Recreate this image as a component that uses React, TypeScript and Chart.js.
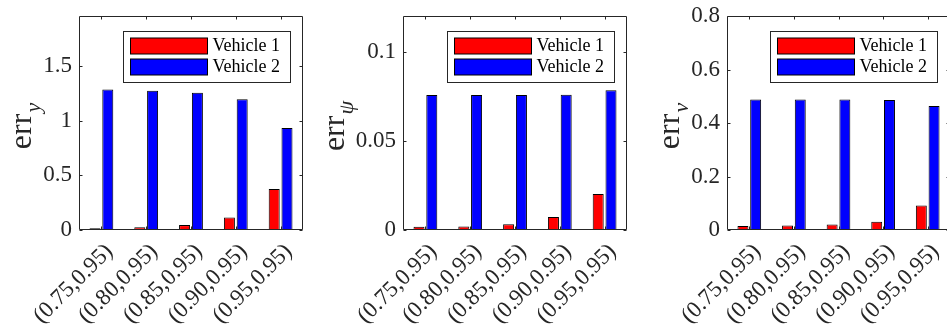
import React, { useEffect, useRef } from "react";
import { Chart, registerables } from "chart.js";
Chart.register(...registerables);

const categories = ["(0.75,0.95)", "(0.80,0.95)", "(0.85,0.95)", "(0.90,0.95)", "(0.95,0.95)"];
const seriesNames = ["Vehicle 1", "Vehicle 2"];

const errY_v1 = [0.015, 0.025, 0.045, 0.115, 0.376];
const errY_v2 = [1.286, 1.275, 1.258, 1.198, 0.935];
const errPsi_v1 = [0.0018, 0.002, 0.0032, 0.0073, 0.0202];
const errPsi_v2 = [0.0757, 0.0757, 0.0757, 0.0758, 0.0783];
const errV_v1 = [0.015, 0.017, 0.021, 0.031, 0.092];
const errV_v2 = [0.488, 0.488, 0.488, 0.486, 0.464];

const yMaxes = [1.96, 0.12, 0.8];
const ySteps = [0.5, 0.05, 0.2];
const yLabelMain = "err";
const ySubs = ["y", "ψ", "v"];

const FONT = "'Liberation Serif', 'Times New Roman', serif";
const AX = "#262626";

const panels = [
  { v1: errY_v1, v2: errY_v2, max: yMaxes[0], step: ySteps[0], sub: ySubs[0], x0: 0, leftW: 79, padR: 17 },
  { v1: errPsi_v1, v2: errPsi_v2, max: yMaxes[1], step: ySteps[1], sub: ySubs[1], x0: 320, leftW: 83, padR: 13 },
  { v1: errV_v1, v2: errV_v2, max: yMaxes[2], step: ySteps[2], sub: ySubs[2], x0: 640, leftW: 87, padR: 10 },
];

const fmt = (v: number) => String(Math.round(v * 10000) / 10000);

const framePlugin = {
  id: "frame",
  afterDraw(chart: any, _args: any, opts: any) {
    const { ctx, chartArea: a } = chart;
    const xs = chart.scales.x;
    const ys = chart.scales.y;
    const L = Math.round(a.left) + 0.5;
    const R = Math.round(a.right) - 0.5;
    const T = Math.round(a.top) + 0.5;
    const B = Math.round(a.bottom) - 0.5;
    ctx.save();
    ctx.strokeStyle = AX;
    ctx.lineWidth = 1;
    ctx.beginPath();
    ctx.rect(L, T, R - L, B - T);
    ys.ticks.forEach((t: any) => {
      const y = Math.round(ys.getPixelForValue(t.value)) + 0.5;
      ctx.moveTo(L, y); ctx.lineTo(L + 3, y);
      ctx.moveTo(R, y); ctx.lineTo(R - 3, y);
    });
    xs.ticks.forEach((_t: any, i: number) => {
      const x = Math.round(xs.getPixelForTick(i)) + 0.5;
      ctx.moveTo(x, T); ctx.lineTo(x, T + 3);
      ctx.moveTo(x, B); ctx.lineTo(x, B - 3);
    });
    ctx.stroke();

    // x tick labels, rotated 45 degrees
    ctx.fillStyle = AX;
    ctx.font = `23px ${FONT}`;
    ctx.textAlign = "right";
    ctx.textBaseline = "middle";
    chart.data.labels.forEach((lab: string, i: number) => {
      const x = xs.getPixelForTick(i);
      ctx.save();
      ctx.translate(x + 8, a.bottom + 18);
      ctx.rotate(-Math.PI / 4);
      ctx.fillText(lab, 0, 0);
      ctx.restore();
    });

    // legend
    const bw = 167, bh = 51;
    const bx = Math.round(a.right - 13 - bw) + 0.5;
    const by = Math.round(a.top + 15) + 0.5;
    ctx.fillStyle = "#fff";
    ctx.fillRect(bx, by, bw, bh);
    ctx.strokeStyle = AX;
    ctx.strokeRect(bx, by, bw, bh);
    ctx.font = `18px ${FONT}`;
    ctx.textBaseline = "middle";
    ctx.textAlign = "left";
    chart.data.datasets.forEach((ds: any, i: number) => {
      const sy = Math.round(by + 6 + i * 21.6);
      const sx = bx + 7;
      ctx.fillStyle = ds.backgroundColor;
      ctx.fillRect(sx, sy, 77, 16);
      ctx.strokeStyle = "#000";
      ctx.strokeRect(sx, sy, 77, 16);
      ctx.fillStyle = "#000";
      ctx.fillText(ds.label, sx + 82, sy + 8.5);
    });

    // y label: "err" with italic subscript
    ctx.font = `23px ${FONT}`;
    let maxW = 0;
    ys.ticks.forEach((t: any) => { maxW = Math.max(maxW, ctx.measureText(t.label).width); });
    const baseX = a.left - 7 - maxW - 12;
    const cy = (a.top + a.bottom) / 2 + 3;
    ctx.translate(baseX, cy);
    ctx.rotate(-Math.PI / 2);
    ctx.textBaseline = "alphabetic";
    ctx.fillStyle = AX;
    ctx.font = `32px ${FONT}`;
    const mw = ctx.measureText(opts.main).width;
    ctx.font = `italic 22px ${FONT}`;
    const sw = ctx.measureText(opts.sub).width;
    const start = -(mw + sw + 1) / 2;
    ctx.font = `32px ${FONT}`;
    ctx.fillText(opts.main, start, 0);
    ctx.font = `italic 22px ${FONT}`;
    ctx.fillText(opts.sub, start + mw + 1, 9);
    ctx.restore();
  },
};

function Panel({ p }: { p: any }) {
  const ref = useRef<HTMLCanvasElement>(null);
  useEffect(() => {
    const chart = new Chart(ref.current as HTMLCanvasElement, {
      type: "bar",
      data: {
        labels: categories,
        datasets: [
          { label: seriesNames[0], data: p.v1, backgroundColor: "#ff0000", borderColor: "#000", borderWidth: 1, borderSkipped: false, categoryPercentage: 0.571, barPercentage: 0.86 },
          { label: seriesNames[1], data: p.v2, backgroundColor: "#0000ff", borderColor: "#000", borderWidth: 1, borderSkipped: false, categoryPercentage: 0.571, barPercentage: 0.86 },
        ],
      },
      options: {
        responsive: false,
        animation: false,
        layout: { padding: { left: 0, top: 16, right: p.padR, bottom: 0 } },
        plugins: {
          legend: { display: false },
          tooltip: { enabled: false },
          frame: { main: yLabelMain, sub: p.sub },
        } as any,
        scales: {
          x: {
            type: "category",
            offset: true,
            grid: { display: false, drawTicks: false },
            border: { display: false },
            ticks: { display: false, autoSkip: false },
            afterFit: (s: any) => { s.height = 99; s.paddingLeft = 0; s.paddingRight = 0; },
          },
          y: {
            min: 0,
            max: p.max,
            grid: { display: false, drawTicks: false },
            border: { display: false },
            ticks: { stepSize: p.step, font: { family: FONT, size: 23 }, color: AX, padding: 7, callback: (v: any) => fmt(Number(v)) },
            afterBuildTicks: (s: any) => {
              s.ticks = s.ticks.filter((t: any) => Math.abs(t.value / p.step - Math.round(t.value / p.step)) < 1e-6);
            },
            afterFit: (s: any) => { s.width = p.leftW; s.paddingTop = 0; s.paddingBottom = 0; },
          },
        },
      } as any,
      plugins: [framePlugin],
    });
    return () => chart.destroy();
  }, []);
  return (
    <canvas ref={ref} width={320} height={329} style={{ position: "absolute", left: p.x0, top: 0, width: 320, height: 329 }} />
  );
}

export default function App() {
  return (
    <div style={{ position: "fixed", left: 0, top: 0, width: 947, height: 329, overflow: "hidden", background: "#fff" }}>
      {panels.map((p, i) => <Panel key={i} p={p} />)}
    </div>
  );
}
